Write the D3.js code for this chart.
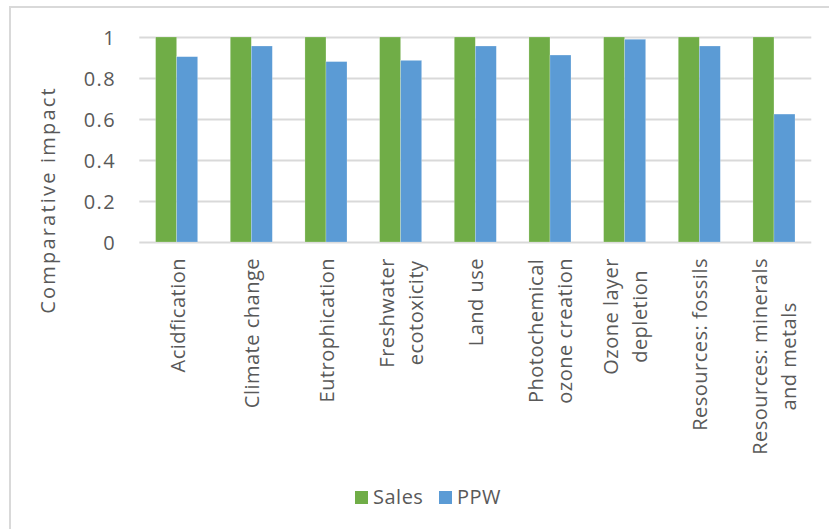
<!DOCTYPE html>
<html>
<head>
<meta charset="utf-8">
<script src="https://cdn.jsdelivr.net/npm/d3@7"></script>
<style>
  html, body { margin: 0; padding: 0; background: #ffffff; }
  svg { display: block; }
  text { font-family: "Open Sans", "Noto Sans", sans-serif; fill: #595959; }
</style>
</head>
<body>
<svg id="chart" width="829" height="529"></svg>
<script>
// Impact categories (line breaks mark wrapped axis labels)
const categories = [
  "Acidfication",
  "Climate change",
  "Eutrophication",
  "Freshwater\necotoxicity",
  "Land use",
  "Photochemical\nozone creation",
  "Ozone layer\ndepletion",
  "Resources: fossils",
  "Resources: minerals\nand metals"
];
const seriesNames = ["Sales", "PPW"];
const salesValues = [1, 1, 1, 1, 1, 1, 1, 1, 1];
const ppwValues = [0.904, 0.956, 0.880, 0.886, 0.956, 0.912, 0.989, 0.956, 0.624];
const yTicks = [0, 0.2, 0.4, 0.6, 0.8, 1];
const yTickLabels = ["0", "0.2", "0.4", "0.6", "0.8", "1"];
const seriesColors = ["#70ad47", "#5b9bd5"];

const svg = d3.select("#chart");
const W = 829, H = 529;
const plot = { left: 139.3, right: 811.3, top: 37, bottom: 242 };

// Chart frame (continues past the right and bottom edges)
svg.append("rect")
  .attr("x", 10).attr("y", 7)
  .attr("width", W + 20).attr("height", H + 20)
  .attr("fill", "#ffffff")
  .attr("stroke", "#d9d9d9")
  .attr("stroke-width", 2);

const x0 = d3.scaleBand()
  .domain(d3.range(categories.length))
  .range([plot.left, plot.right])
  .paddingInner(0.437)
  .paddingOuter(0.2185);

const x1 = d3.scaleBand()
  .domain(d3.range(seriesNames.length))
  .range([0, x0.bandwidth()])
  .padding(0);

const y = d3.scaleLinear().domain([0, 1]).range([plot.bottom, plot.top]);

// Horizontal gridlines
const yAxis = d3.axisLeft(y)
  .tickValues(yTicks)
  .tickSize(-(plot.right - plot.left))
  .tickFormat((d, i) => yTickLabels[i]);

const gy = svg.append("g")
  .attr("transform", `translate(${plot.left},0)`)
  .call(yAxis);
gy.select(".domain").remove();
gy.selectAll(".tick line")
  .attr("stroke", "#d9d9d9")
  .attr("stroke-width", 2);
gy.selectAll(".tick text")
  .attr("x", -23)
  .attr("dy", "0.36em")
  .style("font-size", "20px")
  .style("letter-spacing", "1.5px")
  .style("fill", "#595959");

// Bars
const data = categories.map((c, i) => [salesValues[i], ppwValues[i]]);
const groups = svg.append("g").selectAll("g")
  .data(data)
  .join("g")
  .attr("transform", (d, i) => `translate(${x0(i)},0)`);

groups.selectAll("rect")
  .data(d => d.map((v, s) => ({ v, s })))
  .join("rect")
  .attr("x", d => x1(d.s))
  .attr("y", d => y(d.v))
  .attr("width", x1.bandwidth())
  .attr("height", d => y(0) - y(d.v))
  .attr("fill", d => seriesColors[d.s])
  .attr("stroke", "#ffffff")
  .attr("stroke-opacity", 0.35)
  .attr("stroke-width", 0.6);

// Category labels, rotated and centred within their wrapped block
const labelTop = plot.bottom + 16;
const lineGap = 29;
categories.forEach((c, i) => {
  const cx = x0(i) + x0.bandwidth() / 2;
  const lines = c.split("\n");
  const g = svg.append("g")
    .attr("transform", `translate(${cx},${labelTop}) rotate(-90)`);
  const texts = lines.map((ln, k) => g.append("text")
    .attr("text-anchor", "middle")
    .attr("y", 8 + (k - (lines.length - 1) / 2) * lineGap)
    .style("font-size", "20px")
    .style("letter-spacing", "0.5px")
    .text(ln));
  const L = d3.max(texts, t => t.node().getComputedTextLength());
  texts.forEach(t => t.attr("x", -L / 2));
});

// Y-axis title
svg.append("text")
  .attr("transform", "translate(55,200) rotate(-90)")
  .attr("text-anchor", "middle")
  .style("font-size", "20px")
  .style("letter-spacing", "2.2px")
  .text("Comparative impact");

// Legend
const legend = svg.append("g");
const legendItems = [
  { x: 355, name: seriesNames[0], color: seriesColors[0] },
  { x: 439, name: seriesNames[1], color: seriesColors[1] }
];
legendItems.forEach(it => {
  legend.append("rect")
    .attr("x", it.x).attr("y", 491)
    .attr("width", 13).attr("height", 13)
    .attr("fill", it.color);
  legend.append("text")
    .attr("x", it.x + 18).attr("y", 504)
    .style("font-size", "20px")
    .style("letter-spacing", "0.5px")
    .text(it.name);
});
</script>
</body>
</html>
